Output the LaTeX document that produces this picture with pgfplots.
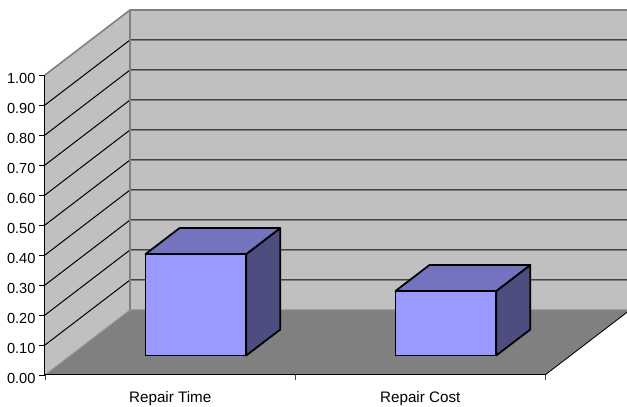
\documentclass[border=0pt]{standalone}
\usepackage{fontspec}
\setmainfont{Liberation Sans}
\usepackage{pgfplots}
\pgfplotsset{compat=1.18}
\definecolor{wall}{HTML}{C0C0C0}
\definecolor{floorgray}{HTML}{808080}
\definecolor{barfront}{HTML}{9999FF}
\definecolor{bartop}{HTML}{7373BF}
\definecolor{barside}{HTML}{4D4D80}
% One column: x from #1 to #2, depth 0.3 to 0.7, height #3
\newcommand{\columnbox}[3]{%
  \addplot3[fill=barside,draw=black,line width=1.8pt,line join=round,mark=none]
    coordinates {(#2,0.3,0)(#2,0.7,0)(#2,0.7,#3)(#2,0.3,#3)} --cycle;
  \addplot3[fill=bartop,draw=black,line width=1.8pt,line join=round,mark=none]
    coordinates {(#1,0.3,#3)(#2,0.3,#3)(#2,0.7,#3)(#1,0.7,#3)} --cycle;
  \addplot3[fill=barfront,draw=black,line width=1.8pt,line join=round,mark=none]
    coordinates {(#1,0.3,0)(#2,0.3,0)(#2,0.3,#3)(#1,0.3,#3)} --cycle;
}
\begin{document}
\begin{tikzpicture}[x=1pt,y=1pt]
\path[use as bounding box] (-45,-32) rectangle (582,375);
\begin{axis}[
  at={(0,0)},anchor=origin,
  x={(250pt,0pt)},y={(85pt,65pt)},z={(0pt,300pt)},
  xmin=0,xmax=2,ymin=0,ymax=1,zmin=0,zmax=1,
  clip=false,
  axis x line*=bottom,
  axis y line=none,
  axis z line*=left,
  axis line style={draw=none},
  major tick length=0pt,
  xtick={0.5,1.5},
  xticklabels={Repair Time,Repair Cost},
  xticklabel style={xshift=5.5pt,yshift=-13pt,font=\fontsize{15.2pt}{16pt}\selectfont},
  ztick={0,0.1,...,1.0},
  zticklabel style={xshift=-6pt,yshift=3pt,font=\fontsize{14.6pt}{16pt}\selectfont,/pgf/number format/fixed,/pgf/number format/fixed zerofill,/pgf/number format/precision=2},
  /pgf/number format/assume math mode=true,
]
% side wall, back wall and floor
\addplot3[fill=wall,draw=none,mark=none] coordinates {(0,0,0)(0,1,0)(0,1,1)(0,0,1)} --cycle;
\addplot3[fill=wall,draw=none,mark=none] coordinates {(0,1,0)(2,1,0)(2,1,1)(0,1,1)} --cycle;
\addplot3[fill=floorgray,draw=none,mark=none] coordinates {(0,0,0)(2,0,0)(2,1,0)(0,1,0)} --cycle;
% horizontal gridlines across both walls
\pgfplotsinvokeforeach{0.1,0.2,0.3,0.4,0.5,0.6,0.7,0.8,0.9}{
  \addplot3[black,line width=1pt,mark=none] coordinates {(0,0,#1)(0,1,#1)(2,1,#1)};
}
% wall outlines
\addplot3[floorgray,line width=1.6pt,mark=none] coordinates {(0,0,1)(0,1,1)(2,1,1)};
\addplot3[floorgray,line width=1.8pt,mark=none] coordinates {(0,1,0)(0,1,1)};
\addplot3[color=floorgray!70!wall,line width=1pt,mark=none] coordinates {(0,0,0)(0,1,0)(2,1,0)};
\addplot3[black,line width=0.85pt,mark=none] coordinates {(2,0,0)(2,1,0)};
% value axis, category axis and their tick marks
\addplot3[black,line width=1pt,mark=none] coordinates {(0,0,0)(0,0,1)};
\addplot3[black,line width=1pt,mark=none] coordinates {(0,0,0)(2,0,0)};
\pgfplotsinvokeforeach{0,0.1,0.2,0.3,0.4,0.5,0.6,0.7,0.8,0.9,1}{
  \addplot3[black,line width=0.9pt,mark=none] coordinates {(-0.022,0,#1)(0,0,#1)};
}
\pgfplotsinvokeforeach{0,1,2}{
  \addplot3[black!75,line width=0.9pt,mark=none] coordinates {(#1,0,-0.017)(#1,0,0)};
}
% columns
\columnbox{0.3}{0.703}{0.338}
\columnbox{1.3}{1.703}{0.215}
\end{axis}
\end{tikzpicture}
\end{document}
